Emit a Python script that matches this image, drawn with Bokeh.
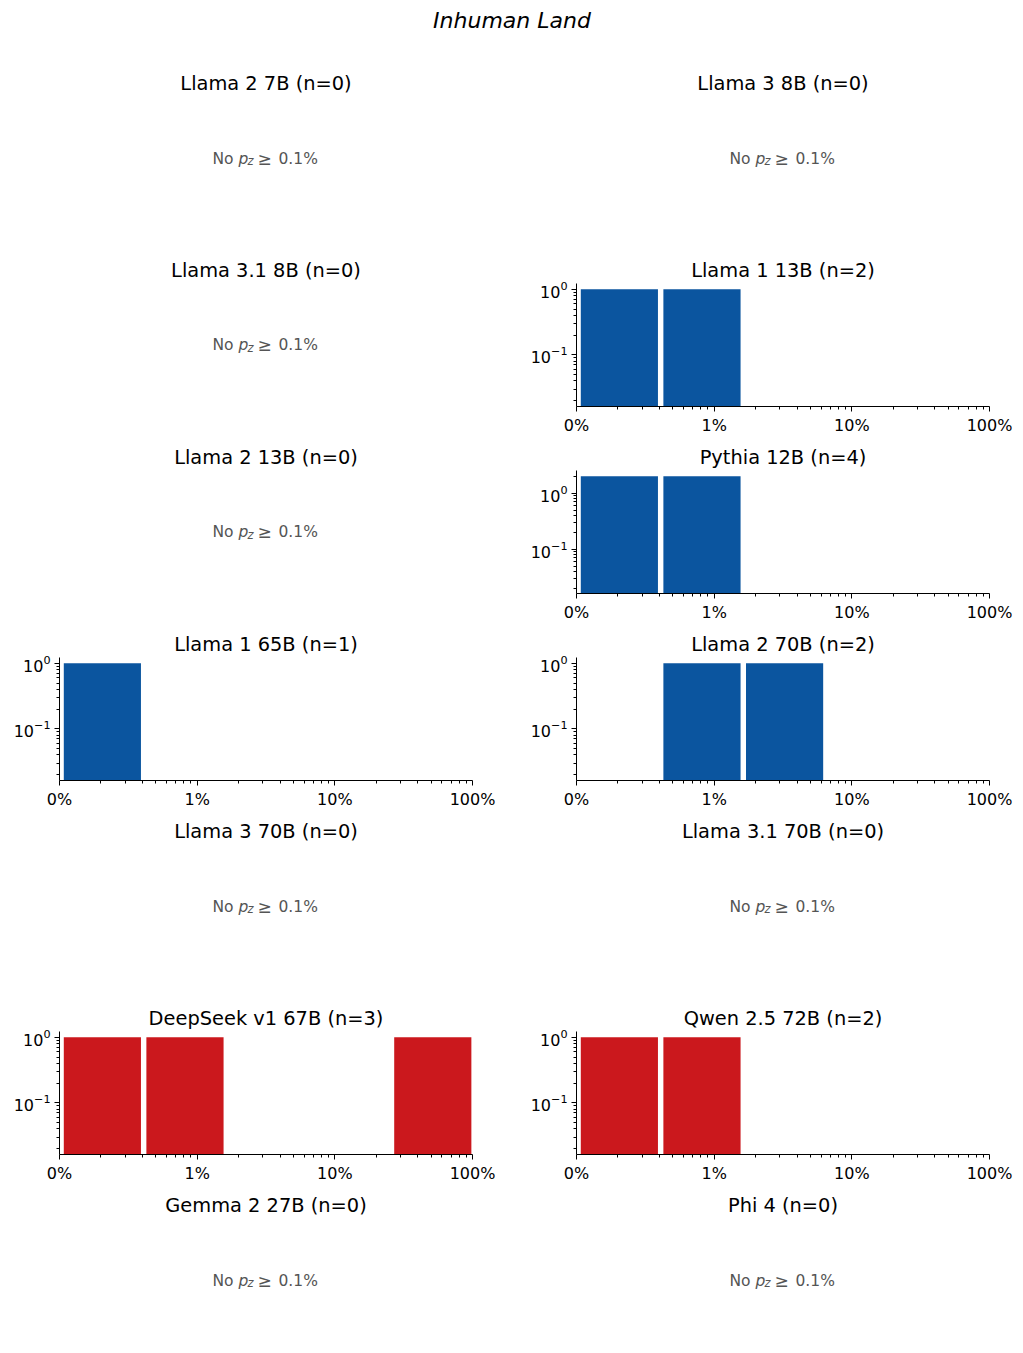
import math
from bokeh.plotting import figure
from bokeh.layouts import gridplot, column
from bokeh.models import Range1d, FixedTicker, CustomJSTickFormatter
from bokeh.core.properties import value
from bokeh.embed import file_html
from bokeh.resources import INLINE

# ---------------- data ----------------
suptitle = "Inhuman Land"
models = ["Llama 2 7B", "Llama 3 8B",
          "Llama 3.1 8B", "Llama 1 13B",
          "Llama 2 13B", "Pythia 12B",
          "Llama 1 65B", "Llama 2 70B",
          "Llama 3 70B", "Llama 3.1 70B",
          "DeepSeek v1 67B", "Qwen 2.5 72B",
          "Gemma 2 27B", "Phi 4"]
# histogram counts per log-spaced bin of p_z (percent)
bin_edges_pct = [0.1, 0.398, 1.585, 6.31, 25.12, 100.0]
counts = [
    [0, 0, 0, 0, 0], [0, 0, 0, 0, 0],
    [0, 0, 0, 0, 0], [1, 1, 0, 0, 0],
    [0, 0, 0, 0, 0], [2, 2, 0, 0, 0],
    [1, 0, 0, 0, 0], [0, 1, 1, 0, 0],
    [0, 0, 0, 0, 0], [0, 0, 0, 0, 0],
    [1, 1, 0, 0, 1], [1, 1, 0, 0, 0],
    [0, 0, 0, 0, 0], [0, 0, 0, 0, 0],
]
group = ["blue", "blue", "blue", "blue", "blue", "blue", "blue", "blue",
         "blue", "blue", "red", "red", "red", "red"]
x_tick_values = [0.1, 1, 10, 100]
y_tick_values = [0.1, 1]

# ---------------- style ----------------
COLORS = {"blue": "#0b559f", "red": "#cb181d"}
FONT = "DejaVu Sans"
FRAME_W, FRAME_H = 413, 124
TOP, BOTTOM = 33, 30
RWIDTH = 0.95
Y_MIN_LOG = -1.79

x_minor = [m * 10 ** e for e in (-1, 0, 1) for m in range(2, 10)]
y_minor = [m * 10 ** e for e in (-2, -1, 0) for m in range(2, 10)]


def make_panel(i):
    col = i % 2
    last_row = i >= len(models) - 2
    left_b = 59
    right_b = 45 if col == 0 else 34
    bottom_b = 11 if last_row else BOTTOM
    c = counts[i]
    n = sum(c)
    title = f"{models[i]} (n={n})"
    common = dict(width=left_b + FRAME_W + right_b,
                  height=TOP + FRAME_H + bottom_b,
                  min_border_left=left_b, min_border_right=right_b,
                  min_border_top=TOP, min_border_bottom=bottom_b,
                  toolbar_location=None, output_backend="svg", title=title)
    if n == 0:
        p = figure(x_range=Range1d(0, 1), y_range=Range1d(0, 1), **common)
        p.axis.visible = False
        p.grid.visible = False
        segs = [("No", -53.5, 0, "normal", "15.5px"),
                ("p", -27.5, 0, "italic", "15.5px"),
                ("z", -18.5, 2.5, "italic", "11.5px"),
                ("\u2265", -8.5, 0, "normal", "17px"),
                ("0.1%", 12.5, 0, "normal", "15.5px")]
        for txt, xo, yo, sty, sz in segs:
            p.text(x=[0.5], y=[0.5], text=[txt], x_offset=xo, y_offset=yo,
                   text_align="left", text_baseline="alphabetic",
                   text_font=value(FONT), text_font_style=sty,
                   text_font_size=sz, text_color="#555555")
    else:
        top_log = math.log10(max(c)) + 0.05 * (math.log10(max(c)) - Y_MIN_LOG)
        p = figure(x_axis_type="log", y_axis_type="log",
                   x_range=Range1d(bin_edges_pct[0], bin_edges_pct[-1]),
                   y_range=Range1d(10 ** Y_MIN_LOG, 10 ** top_log), **common)
        lefts, rights, tops = [], [], []
        for k, v in enumerate(c):
            if v <= 0:
                continue
            a, b = bin_edges_pct[k], bin_edges_pct[k + 1]
            mid, w = (a + b) / 2, (b - a) * RWIDTH
            lefts.append(mid - w / 2)
            rights.append(mid + w / 2)
            tops.append(v)
        p.quad(left=lefts, right=rights, bottom=[10 ** (Y_MIN_LOG - 1)] * len(tops),
               top=tops, fill_color=COLORS[group[i]], line_color=None)
        p.grid.visible = False
        p.xaxis.ticker = FixedTicker(ticks=x_tick_values, minor_ticks=x_minor)
        p.xaxis.formatter = CustomJSTickFormatter(
            code="return (tick < 0.5 ? '0' : tick.toFixed(0)) + '%';")
        p.yaxis.ticker = FixedTicker(ticks=y_tick_values, minor_ticks=y_minor)
        for ax in p.axis:
            ax.axis_line_color = "black"
            ax.axis_line_width = 1
            ax.major_tick_line_color = "black"
            ax.minor_tick_line_color = "black"
            ax.major_tick_out = 5
            ax.major_tick_in = 0
            ax.minor_tick_out = 3
            ax.minor_tick_in = 0
            ax.major_label_standoff = 4
            ax.major_label_text_font = FONT
            ax.major_label_text_font_size = "16px"
            ax.major_label_text_color = "black"
    p.outline_line_color = None
    p.background_fill_color = None
    p.border_fill_color = None
    p.title.text_font = FONT
    p.title.text_font_style = "normal"
    p.title.text_font_size = "19.4px"
    p.title.align = "center"
    p.title.standoff = 4
    p.title.text_color = "black"
    return p


panels = [make_panel(i) for i in range(len(models))]
rows = [panels[j:j + 2] for j in range(0, len(panels), 2)]
grid = gridplot(rows, toolbar_location=None)

head = figure(width=1023, height=63, title=suptitle, toolbar_location=None,
              output_backend="svg", min_border=0, x_range=Range1d(0, 1),
              y_range=Range1d(0, 1))
head.axis.visible = False
head.grid.visible = False
head.outline_line_color = None
head.title.align = "center"
head.title.text_font = FONT
head.title.text_font_style = "italic"
head.title.text_font_size = "22px"
head.title.text_color = "black"
head.title.offset = -5

layout = column(head, grid, spacing=0)
open("out.html", "w").write(file_html(layout, INLINE))
